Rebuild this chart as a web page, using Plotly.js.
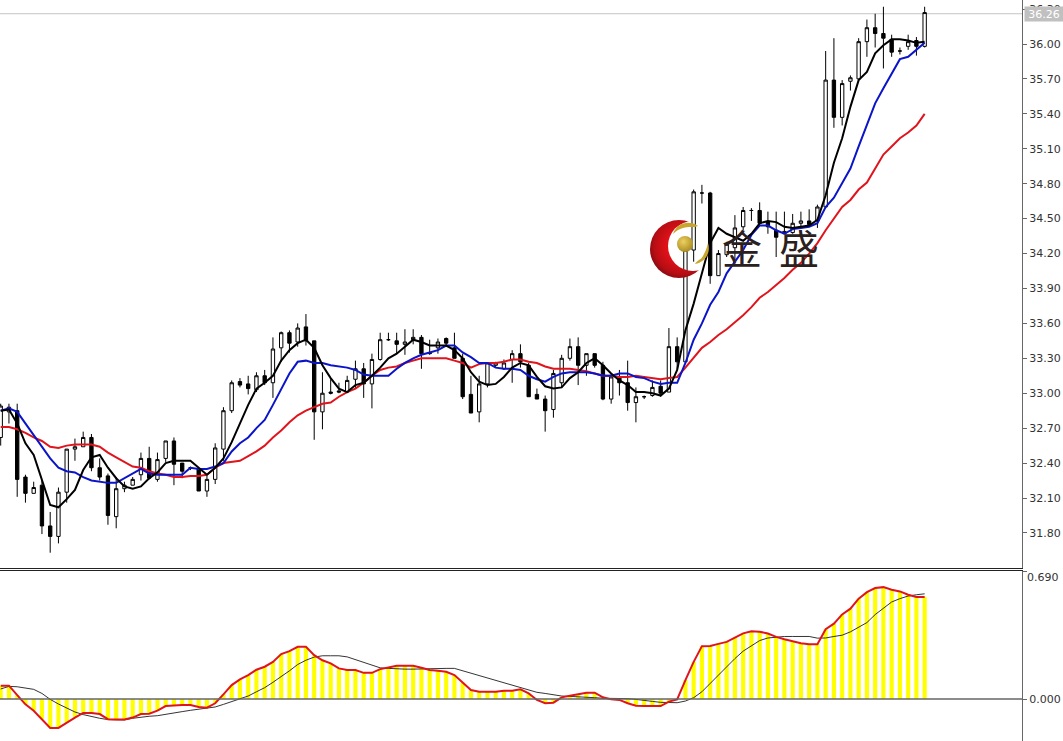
<!DOCTYPE html>
<html>
<head>
<meta charset="utf-8">
<script src="https://cdn.plot.ly/plotly-3.0.1.min.js"></script>
<style>html,body{margin:0;padding:0;background:#fff;overflow:hidden}</style>
</head>
<body>
<div id="chart" style="width:1063px;height:741px"></div>
<script>
const opens = [32.62,32.84,32.85,32.28,32.14,32.21,31.86,31.77,32.15,32.52,
32.54,32.62,32.36,32.29,31.94,32.18,32.21,32.30,32.44,32.26,
32.44,32.59,32.40,32.36,32.35,32.16,32.26,32.52,32.85,33.10,
33.08,33.03,33.15,33.09,33.39,33.52,33.44,33.57,33.45,32.84,
33.01,33.02,33.01,33.12,33.21,33.08,33.29,33.46,33.45,33.42,
33.46,33.48,33.35,33.39,33.47,33.39,33.30,32.99,32.84,33.08,
33.24,33.21,33.29,33.34,33.24,32.99,32.95,32.86,33.09,33.30,
33.40,33.24,33.34,33.24,32.95,33.13,33.09,32.92,32.97,32.98,
33.06,33.01,33.40,33.27,34.23,34.72,34.72,34.01,34.19,34.25,
34.43,34.57,34.57,34.47,34.40,34.37,34.38,34.46,34.48,34.48,
34.60,35.69,35.37,35.68,35.70,36.02,36.14,36.09,36.04,35.94,
35.98,36.03,35.98];
const highs = [32.91,32.91,32.91,32.30,32.24,32.25,31.98,32.19,32.52,32.61,
32.67,32.65,32.44,32.31,32.28,32.24,32.28,32.49,32.54,32.49,
32.59,32.62,32.40,32.37,32.36,32.29,32.57,32.88,33.11,33.13,
33.15,33.18,33.20,33.48,33.53,33.54,33.60,33.68,33.45,33.18,
33.12,33.09,33.15,33.28,33.26,33.34,33.52,33.52,33.52,33.55,
33.55,33.50,33.46,33.47,33.48,33.52,33.34,33.15,33.15,33.26,
33.27,33.29,33.37,33.42,33.26,33.04,32.98,33.20,33.33,33.47,
33.48,33.34,33.34,33.27,33.17,33.20,33.28,33.05,32.98,33.11,
33.11,33.56,33.48,34.26,34.75,34.79,34.73,34.23,34.30,34.53,
34.60,34.59,34.64,34.56,34.56,34.56,34.54,34.56,34.58,34.62,
35.94,36.05,35.69,35.73,36.05,36.21,36.26,36.32,36.08,35.97,
36.08,36.06,36.32];
const lows = [32.55,32.74,32.11,32.06,32.14,31.79,31.63,31.71,32.06,32.42,
32.54,32.33,32.25,31.87,31.84,32.15,32.21,32.25,32.26,32.24,
32.41,32.21,32.27,32.34,32.16,32.11,32.22,32.42,32.83,33.05,
32.99,33.01,33.07,32.96,33.27,33.35,33.40,33.41,32.60,32.69,
32.99,33.00,33.01,33.04,32.96,32.87,33.28,33.45,33.34,33.33,
33.42,33.21,33.33,33.34,33.41,33.30,32.95,32.83,32.75,33.05,
33.22,33.20,33.09,33.22,32.97,32.95,32.67,32.79,33.05,33.28,
33.07,33.15,33.22,32.94,32.91,32.98,32.85,32.75,32.95,32.97,
32.97,33.01,33.21,33.27,34.13,34.63,33.94,34.01,34.17,34.10,
34.40,34.48,34.44,34.37,34.17,34.37,34.37,34.43,34.43,34.42,
34.60,35.28,35.30,35.60,35.69,35.89,35.97,35.79,35.89,35.91,
35.95,35.90,35.97];
const closes = [32.89,32.88,32.26,32.14,32.19,31.86,31.77,32.15,32.52,32.54,
32.62,32.36,32.28,31.95,32.18,32.21,32.26,32.44,32.27,32.43,
32.59,32.39,32.33,32.36,32.16,32.26,32.53,32.85,33.09,33.07,
33.04,33.15,33.09,33.38,33.52,33.43,33.56,33.45,32.84,33.00,
33.00,33.01,33.11,33.21,33.08,33.29,33.46,33.46,33.42,33.44,
33.48,33.34,33.34,33.44,33.43,33.30,32.97,32.83,33.08,33.26,
33.26,33.26,33.34,33.27,32.97,32.95,32.85,33.17,33.30,33.40,
33.24,33.34,33.24,32.95,33.14,33.09,32.92,32.97,32.97,33.05,
33.00,33.40,33.27,34.23,34.73,34.72,34.01,34.20,34.28,34.42,
34.57,34.57,34.46,34.43,34.34,34.39,34.46,34.48,34.45,34.60,
35.69,35.37,35.66,35.71,36.02,36.14,36.09,36.05,35.93,35.94,
36.02,35.98,36.27];
const maFast = [32.85,32.86,32.74,32.57,32.47,32.25,32.04,32.02,32.09,32.17,
32.34,32.45,32.47,32.36,32.27,32.20,32.18,32.20,32.27,32.32,
32.40,32.42,32.42,32.42,32.36,32.30,32.36,32.44,32.58,32.74,
32.90,33.04,33.09,33.15,33.28,33.37,33.43,33.46,33.39,33.24,
33.13,33.04,33.01,33.07,33.09,33.15,33.22,33.30,33.34,33.40,
33.46,33.44,33.41,33.41,33.41,33.37,33.30,33.18,33.10,33.07,
33.08,33.14,33.22,33.26,33.24,33.14,33.06,33.04,33.05,33.13,
33.18,33.26,33.30,33.24,33.17,33.11,33.07,33.01,33.01,33.00,
32.98,33.04,33.20,33.54,33.77,34.03,34.29,34.42,34.37,34.34,
34.31,34.37,34.46,34.48,34.47,34.43,34.42,34.43,34.44,34.49,
34.70,34.98,35.19,35.46,35.69,35.76,35.92,35.99,36.04,36.04,
36.03,36.01,36.02];
const maMid = [32.85,32.87,32.84,32.74,32.64,32.55,32.44,32.36,32.33,32.32,
32.28,32.25,32.24,32.23,32.23,32.27,32.31,32.35,32.31,32.30,
32.30,32.30,32.30,32.36,32.35,32.35,32.37,32.40,32.50,32.57,
32.62,32.70,32.77,32.90,33.03,33.17,33.27,33.28,33.26,33.26,
33.24,33.23,33.22,33.20,33.16,33.15,33.15,33.15,33.21,33.26,
33.30,33.33,33.35,33.37,33.41,33.41,33.35,33.31,33.26,33.26,
33.22,33.21,33.21,33.20,33.15,33.12,33.10,33.14,33.17,33.18,
33.18,33.18,33.17,33.15,33.15,33.17,33.17,33.14,33.13,33.10,
33.08,33.09,33.09,33.26,33.46,33.60,33.76,33.87,34.03,34.13,
34.23,34.36,34.44,34.44,34.40,34.37,34.41,34.42,34.43,34.46,
34.60,34.68,34.80,34.93,35.12,35.30,35.49,35.62,35.75,35.87,
35.89,35.95,36.01];
const maSlow = [32.71,32.71,32.69,32.66,32.62,32.59,32.54,32.53,32.55,32.56,
32.56,32.56,32.54,32.49,32.45,32.41,32.37,32.36,32.33,32.31,
32.30,32.28,32.28,32.29,32.29,32.30,32.36,32.40,32.41,32.42,
32.46,32.50,32.55,32.62,32.68,32.75,32.81,32.85,32.88,32.91,
32.92,32.97,33.01,33.04,33.09,33.15,33.20,33.22,33.23,33.26,
33.28,33.30,33.30,33.30,33.30,33.28,33.26,33.22,33.25,33.26,
33.26,33.27,33.29,33.29,33.27,33.26,33.23,33.21,33.21,33.21,
33.20,33.19,33.17,33.15,33.15,33.14,33.14,33.15,33.14,33.13,
33.12,33.13,33.14,33.22,33.31,33.39,33.44,33.50,33.55,33.61,
33.67,33.74,33.82,33.87,33.93,33.99,34.06,34.12,34.20,34.29,
34.40,34.50,34.60,34.66,34.75,34.81,34.93,35.05,35.12,35.19,
35.24,35.30,35.40];
const macdMain = [0.072,0.072,0.021,-0.029,-0.063,-0.109,-0.156,-0.156,-0.127,-0.100,
-0.075,-0.075,-0.081,-0.109,-0.111,-0.111,-0.100,-0.081,-0.079,-0.063,
-0.038,-0.034,-0.032,-0.032,-0.043,-0.047,-0.023,0.025,0.075,0.106,
0.129,0.158,0.174,0.200,0.242,0.258,0.281,0.281,0.236,0.209,
0.192,0.165,0.156,0.156,0.141,0.141,0.161,0.170,0.179,0.179,
0.179,0.168,0.156,0.152,0.147,0.129,0.088,0.048,0.039,0.039,
0.039,0.045,0.045,0.052,0.030,-0.005,-0.023,-0.020,0.009,0.018,
0.025,0.034,0.034,0.009,-0.002,-0.005,-0.023,-0.036,-0.038,-0.038,
-0.038,-0.014,-0.002,0.102,0.200,0.285,0.286,0.297,0.308,0.331,
0.354,0.365,0.363,0.353,0.335,0.322,0.311,0.301,0.295,0.295,
0.376,0.406,0.456,0.487,0.541,0.576,0.598,0.603,0.589,0.580,
0.562,0.550,0.550];
const macdSignal = [0.054,0.068,0.066,0.059,0.052,0.030,-0.002,-0.027,-0.050,-0.070,
-0.084,-0.095,-0.104,-0.111,-0.113,-0.113,-0.104,-0.097,-0.093,-0.090,
-0.084,-0.077,-0.068,-0.061,-0.054,-0.048,-0.043,-0.029,-0.014,-0.002,
0.016,0.039,0.061,0.090,0.120,0.152,0.186,0.209,0.226,0.233,
0.233,0.233,0.227,0.213,0.200,0.186,0.168,0.165,0.161,0.161,
0.161,0.163,0.165,0.165,0.165,0.165,0.152,0.138,0.125,0.111,
0.097,0.084,0.075,0.061,0.048,0.036,0.030,0.021,0.016,0.014,
0.013,0.011,0.007,0.004,0.004,0.004,0.002,-0.002,-0.009,-0.013,
-0.018,-0.020,-0.020,-0.011,0.007,0.039,0.084,0.125,0.174,0.218,
0.258,0.286,0.315,0.329,0.335,0.337,0.337,0.337,0.337,0.328,
0.329,0.337,0.344,0.362,0.388,0.412,0.455,0.491,0.523,0.541,
0.555,0.562,0.567];
const priceTicks = [31.8,32.1,32.4,32.7,33.0,33.3,33.6,33.9,34.2,34.5,34.8,35.1,35.4,35.7,36.0,36.3];
const lastPrice = 36.26;

const bars = opens.map((_, i) => i);
const xRange = [-0.085, 123.8];
const fontFam = '"DejaVu Sans", sans-serif';

const logoSvg = '<svg xmlns="http://www.w3.org/2000/svg" width="240" height="240" viewBox="0 0 60 60">' +
 '<defs>' +
 '<radialGradient id="r" cx="0.55" cy="0.45" r="0.6"><stop offset="0.45" stop-color="#e01018"/><stop offset="0.8" stop-color="#b80d14"/><stop offset="1" stop-color="#7c0a10"/></radialGradient>' +
 '<radialGradient id="g" cx="0.4" cy="0.35" r="0.7"><stop offset="0" stop-color="#ecd060"/><stop offset="1" stop-color="#a8881e"/></radialGradient>' +
 '<mask id="m"><rect width="60" height="60" fill="#fff"/><circle cx="43" cy="27" r="25" fill="#000"/></mask>' +
 '</defs>' +
 '<circle cx="29" cy="30" r="29" fill="url(#r)" mask="url(#m)"/>' +
 '<circle cx="35" cy="25" r="8" fill="url(#g)"/>' +
 '<path d="M23 15 C27 3 40 1 48 7 C44 9 38 7 33 9 C29 10 26 12 23 15 Z" fill="#c9a52e"/>' +
 '<path d="M58 24 C61 33 56 43 45 45 C47 41 51 41 53 37 C55 33 57 29 58 24 Z" fill="#c9a52e"/>' +
 '</svg>';

const traces = [
  {type:'candlestick', x:bars, open:opens, high:highs, low:lows, close:closes, xaxis:'x', yaxis:'y',
   whiskerwidth:0, hoverinfo:'skip', showlegend:false,
   increasing:{line:{color:'#000',width:1}, fillcolor:'#fff'},
   decreasing:{line:{color:'#000',width:1}, fillcolor:'#000'}},
  {type:'scatter', mode:'lines', x:bars, y:maSlow, xaxis:'x', yaxis:'y', line:{color:'#e0141c',width:2}, showlegend:false, hoverinfo:'skip'},
  {type:'scatter', mode:'lines', x:bars, y:maMid, xaxis:'x', yaxis:'y', line:{color:'#0a14c8',width:2}, showlegend:false, hoverinfo:'skip'},
  {type:'scatter', mode:'lines', x:bars, y:maFast, xaxis:'x', yaxis:'y', line:{color:'#000',width:2}, showlegend:false, hoverinfo:'skip'},
  {type:'bar', x:bars, y:macdMain, xaxis:'x2', yaxis:'y2', width:0.5, marker:{color:'#ffff00',line:{width:0}}, showlegend:false, hoverinfo:'skip'},
  {type:'scatter', mode:'lines', x:bars, y:macdSignal, xaxis:'x2', yaxis:'y2', line:{color:'#000',width:0.8}, showlegend:false, hoverinfo:'skip'},
  {type:'scatter', mode:'lines', x:bars, y:macdMain, xaxis:'x2', yaxis:'y2', line:{color:'#e0141c',width:2}, showlegend:false, hoverinfo:'skip'}
];

const layout = {
  width:1063, height:741, autosize:false,
  margin:{l:0,r:41,t:0,b:0,pad:0},
  paper_bgcolor:'#fff', plot_bgcolor:'#fff',
  showlegend:false, boxgap:0.42, bargap:0.5,
  font:{family:fontFam,size:11,color:'#333'},
  xaxis:{domain:[0,1],range:xRange,anchor:'y',showgrid:false,zeroline:false,showticklabels:false,ticks:'',
         showline:true,linecolor:'#222',linewidth:1,rangeslider:{visible:false},fixedrange:true},
  xaxis2:{domain:[0,1],range:xRange,anchor:'y2',side:'top',showgrid:false,zeroline:false,showticklabels:false,ticks:'',
         showline:true,linecolor:'#222',linewidth:1,fixedrange:true},
  yaxis:{domain:[1-567.5/741,1],range:[31.503,36.378],side:'right',anchor:'x',showgrid:false,zeroline:false,
         tickmode:'array',tickvals:priceTicks,ticktext:priceTicks.map(v=>v.toFixed(2)),
         ticks:'outside',ticklen:4,tickcolor:'#666',tickwidth:1,showline:true,linecolor:'#666',linewidth:1,
         tickfont:{family:fontFam,size:11,color:'#333'},fixedrange:true},
  yaxis2:{domain:[0,1-571/741],range:[-0.2264,0.69],side:'right',anchor:'x2',showgrid:false,
         zeroline:false,
         tickmode:'array',tickvals:[0,0.69],ticktext:['0.000',' '],
         ticks:'outside',ticklen:4,tickcolor:'#666',tickwidth:1,showline:true,linecolor:'#666',linewidth:1,
         tickfont:{family:fontFam,size:11,color:'#333'},fixedrange:true},
  shapes:[
    {type:'line',xref:'paper',yref:'y',x0:0,x1:1,y0:lastPrice,y1:lastPrice,line:{color:'#c4c4c4',width:1},layer:'below'},
    {type:'line',xref:'paper',yref:'y2',x0:0,x1:1,y0:0,y1:0,line:{color:'#666',width:1.5},layer:'above'}
  ],
  annotations:[
    {xref:'paper',yref:'y',x:1,xshift:2,y:lastPrice,text:lastPrice.toFixed(2),showarrow:false,xanchor:'left',yanchor:'middle',
     width:38,height:14,align:'center',bgcolor:'#c0c0c0',font:{family:fontFam,size:11,color:'#fff'},borderpad:0},
    {xref:'paper',yref:'paper',x:1,xshift:4,y:1-577/741,text:'0.690',showarrow:false,xanchor:'left',yanchor:'middle',
     font:{family:fontFam,size:11,color:'#333'},borderpad:0},
    {xref:'paper',yref:'paper',x:742/1022,y:1-247/741,text:'金',showarrow:false,xanchor:'center',yanchor:'middle',
     font:{family:'"Noto Sans CJK SC", sans-serif',size:40,color:'#2b2020'}},
    {xref:'paper',yref:'paper',x:799/1022,y:1-247/741,text:'盛',showarrow:false,xanchor:'center',yanchor:'middle',
     font:{family:'"Noto Sans CJK SC", sans-serif',size:40,color:'#2b2020'}}
  ],
  images:[
    {source:'data:image/svg+xml;charset=utf-8,'+encodeURIComponent(logoSvg),xref:'paper',yref:'paper',
     x:650/1022,y:1-219/741,sizex:60/1022,sizey:60/741,sizing:'stretch',xanchor:'left',yanchor:'top',layer:'above'}
  ]
};
Plotly.newPlot('chart',traces,layout,{displayModeBar:false,staticPlot:true});
</script>
</body>
</html>
